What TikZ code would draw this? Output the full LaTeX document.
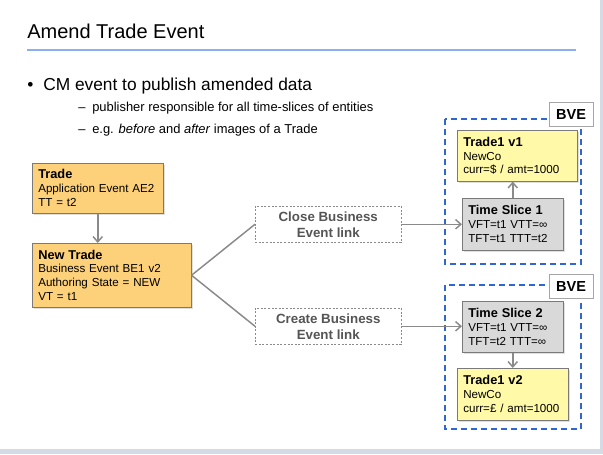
\documentclass[tikz,border=0pt]{standalone}
\usepackage{fontspec}
\setmainfont{Liberation Sans}
\usepackage{xcolor}
\definecolor{naranjaCaja}{HTML}{FDD07A}
\definecolor{amarilloCaja}{HTML}{FFF9A8}
\definecolor{grisCaja}{HTML}{D9D9D9}
\definecolor{bordeCaja}{HTML}{7A7A7A}
\definecolor{azulBVE}{HTML}{2F66D0}
\definecolor{azulTitulo}{HTML}{8CAEF5}
\definecolor{grisFlecha}{HTML}{8A8A8A}
\definecolor{grisTexto}{HTML}{555555}
\definecolor{grisFondo}{HTML}{D5DBE5}
\usepackage{tikz}
\usetikzlibrary{arrows.meta,shadows}

\newcommand{\cabecera}[1]{{\fontsize{9.6}{11}\selectfont\bfseries #1}}

\begin{document}
\begin{tikzpicture}[x=0.75pt,y=-0.75pt,
  >={Straight Barb[length=4pt,width=7pt]},
  caja/.style={draw=bordeCaja,anchor=north west,inner xsep=4.5pt,inner ysep=2pt,
    align=left,font=\fontsize{8.7}{10.4}\selectfont,
    drop shadow={opacity=0.25,shadow xshift=1pt,shadow yshift=-1pt}},
  enlace/.style={draw=grisFlecha,dash pattern=on 1.5pt off 1.2pt,anchor=north west,
    minimum width=109.5pt,minimum height=27pt,inner sep=0pt,align=center,
    text=grisTexto,font=\fontsize{10}{12}\selectfont\bfseries},
  grupo/.style={draw=azulBVE,line width=1.5pt,dash pattern=on 4.5pt off 3pt},
  etiqueta/.style={draw=gray!70,fill=white,minimum width=33pt,minimum height=18pt,
    inner sep=0pt,font=\fontsize{10.9}{12}\selectfont\bfseries},
  flecha/.style={draw=grisFlecha,line width=1.1pt}]

\useasboundingbox (0,0) rectangle (603,454);

% Fondo
\fill[white]     (0,0)   rectangle (603,454);
\fill[grisFondo] (600,0) rectangle (603,454);
\fill[grisFondo] (0,449) rectangle (603,454);

% Título
\node[anchor=base west,inner sep=0pt,font=\fontsize{15}{18}\selectfont] (titulo) at (27,38) {Amend Trade Event};
\draw[azulTitulo,line width=1.5pt] (27,49.5) -- (576,49.5);

% Viñetas
\node[anchor=base west,inner sep=0pt,font=\fontsize{13}{15}\selectfont] (vineta) at (27,90) {\textbullet};
\node[anchor=base west,inner sep=0pt,font=\fontsize{13}{15}\selectfont] (punto) at (43,90) {CM event to publish amended data};
\node[anchor=base west,inner sep=0pt,font=\fontsize{9.7}{12}\selectfont] (guion1) at (78,111.5) {–};
\node[anchor=base west,inner sep=0pt,font=\fontsize{9.7}{12}\selectfont] (sub1) at (92,111.5) {publisher responsible for all time-slices of entities};
\node[anchor=base west,inner sep=0pt,font=\fontsize{9.7}{12}\selectfont] (guion2) at (78,133) {–};
\node[anchor=base west,inner sep=0pt,font=\fontsize{9.7}{12}\selectfont] (sub2) at (92,133) {e.g. \textit{before} and \textit{after} images of a Trade};

% Grupos BVE
\draw[grupo] (445,119) rectangle (581,264);
\draw[grupo] (445,285) rectangle (581,429);
\node[etiqueta] (bve1) at (571,114.5) {BVE};
\node[etiqueta] (bve2) at (571,286.5) {BVE};

% Cajas
\node[caja,fill=naranjaCaja,text width=89.25pt,minimum height=37.5pt] (trade) at (32,163)
  {\cabecera{Trade}\\Application Event AE2\\TT = t2};
\node[caja,fill=naranjaCaja,text width=110.25pt,minimum height=48pt] (newtrade) at (32,243)
  {\cabecera{New Trade}\\Business Event BE1 v2\\Authoring State = NEW\\VT = t1};

\node[enlace] (close) at (255,206) {Close Business\\Event link};
\node[enlace] (create) at (255,308) {Create Business\\Event link};

\node[caja,fill=amarilloCaja,text width=81pt,minimum height=38.25pt] (tradeUno) at (457,130)
  {\cabecera{Trade1 v1}\\NewCo\\curr=\$ / amt=1000};
\node[caja,fill=grisCaja,text width=66.75pt,minimum height=39pt] (sliceUno) at (462,198)
  {\cabecera{Time Slice 1}\\VFT=t1 VTT=∞\\TFT=t1 TTT=t2};
\node[caja,fill=grisCaja,text width=66.75pt,minimum height=38.25pt] (sliceDos) at (462,301)
  {\cabecera{Time Slice 2}\\VFT=t1 VTT=∞\\TFT=t2 TTT=∞};
\node[caja,fill=amarilloCaja,text width=74.25pt,minimum height=39pt] (tradeDos) at (457,368)
  {\cabecera{Trade1 v2}\\NewCo\\curr=£ / amt=1000};

% Conectores
\draw[flecha,->] (trade.south) -- (trade.south |- newtrade.north);
\draw[flecha] (newtrade.east) -- (close.west);
\draw[flecha] (newtrade.east) -- (create.west);
\draw[flecha,->] (close.east) -- (close.east -| sliceUno.west);
\draw[flecha,->] (create.east) -- (create.east -| sliceDos.west);
\draw[flecha,->] (sliceUno.north) -- (sliceUno.north |- tradeUno.south);
\draw[flecha,->] (sliceDos.south) -- (sliceDos.south |- tradeDos.north);

\end{tikzpicture}
\end{document}
